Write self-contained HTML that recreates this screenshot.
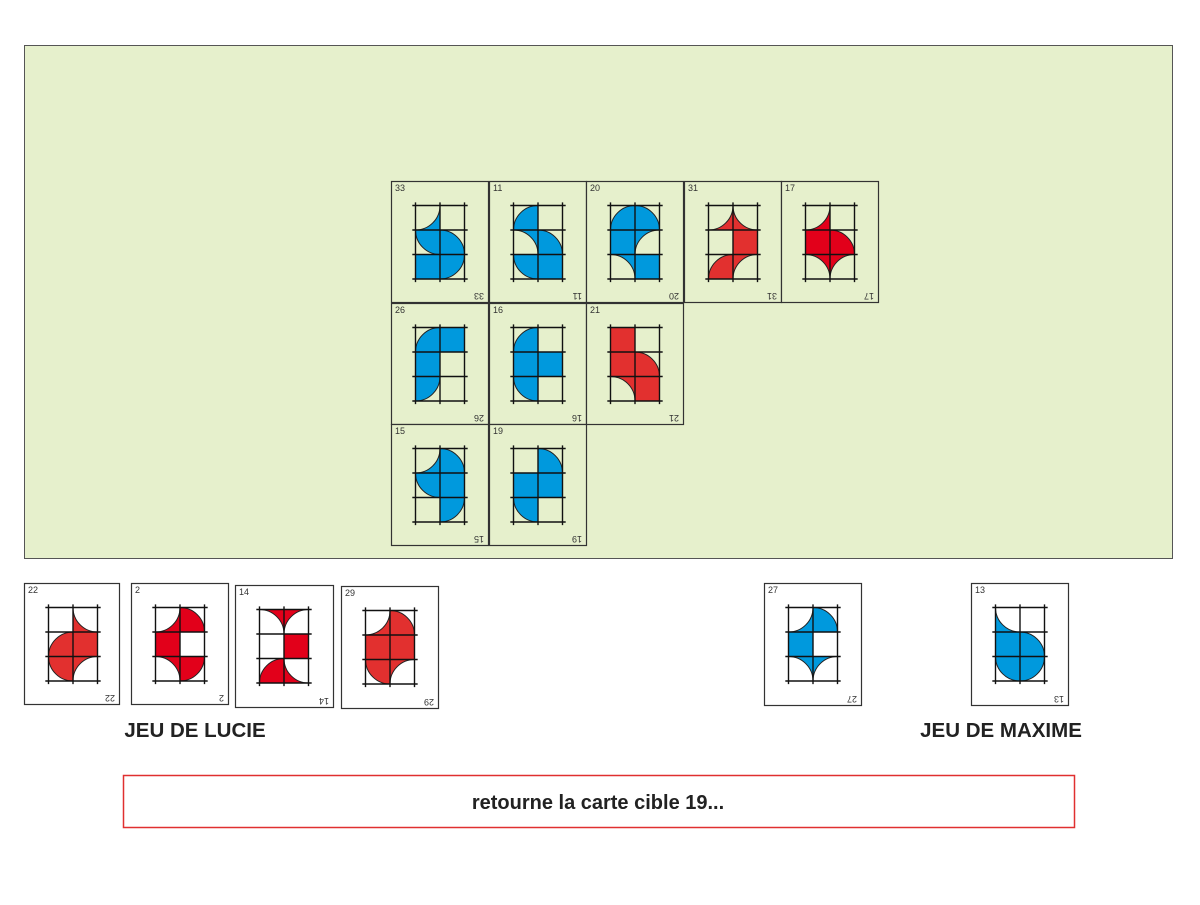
<!DOCTYPE html>
<html><head><meta charset="utf-8"><style>
body{margin:0;background:#fff;width:1200px;height:900px;overflow:hidden;font-family:"Liberation Sans",sans-serif}
</style></head><body>
<svg id="s" width="1200" height="900" xmlns="http://www.w3.org/2000/svg" font-family="Liberation Sans, sans-serif">
<rect x="24.5" y="45.5" width="1148" height="513" fill="#e6f0cc" stroke="#555" stroke-width="1"/>
<text x="195" y="737" font-size="20.5" font-weight="bold" text-anchor="middle" fill="#222">JEU DE LUCIE</text>
<text x="1001" y="737" font-size="20.5" font-weight="bold" text-anchor="middle" fill="#222">JEU DE MAXIME</text>
<rect x="123.5" y="775.5" width="951" height="52" fill="#fff" stroke="#e03030" stroke-width="1.5"/>
<text x="598" y="809" font-size="20" font-weight="bold" text-anchor="middle" fill="#222">retourne la carte cible 19...</text>
<g id="cards"></g>
</svg>
<script>
const B="#0099dd",R="#e2302f",R2="#e2001a";
const cards=[
[33,391,181,97,121,"#e6f0cc",B,"C_tl,,Q_tr,Q_bl,F,Q_tl"],
[11,489,181,97,121,"#e6f0cc",B,"Q_br,,C_bl,Q_bl,Q_tr,F"],
[20,586,181,97,121,"#e6f0cc",B,"Q_br,Q_bl,F,C_br,C_bl,F"],
[31,684,181,97,121,"#e6f0cc",R,"C_tl,C_tr,,F,Q_br,C_br"],
[17,781,181,97,121,"#e6f0cc",R2,"C_tl,,F,Q_bl,C_bl,C_br"],
[26,391,303,97,121,"#e6f0cc",B,"Q_br,F,F,,Q_tl,"],
[16,489,303,97,121,"#e6f0cc",B,"Q_br,,F,F,Q_tr,"],
[21,586,303,97,121,"#e6f0cc",R,"F,,F,Q_bl,C_bl,F"],
[15,391,424,97,121,"#e6f0cc",B,"C_tl,Q_bl,Q_tr,F,,Q_tl"],
[19,489,424,97,121,"#e6f0cc",B,",Q_bl,F,F,Q_tr,"],
[22,24,583,95,121,"#fff",R,",C_tr,Q_br,F,Q_tr,C_br"],
[2,131,583,97,121,"#fff",R2,"C_tl,Q_bl,F,,C_bl,Q_tl"],
[14,235,585,98,122,"#fff",R2,"C_bl,C_br,,F,Q_br,C_tr"],
[29,341,586,97,122,"#fff",R,"C_tl,Q_bl,F,F,Q_tr,C_br"],
[27,764,583,97,122,"#fff",B,"C_tl,Q_bl,F,,C_bl,C_br"],
[13,971,583,97,122,"#fff",B,"C_tr,,F,Q_bl,Q_tr,Q_tl"]
];
function prim(t,c,r){
 if(t==="F")return `M${c},${r}h1v1h-1Z`;
 const [k,cor]=t.split("_");
 const top=cor[0]==="t",left=cor[1]==="l";
 const Kx=c+(left?0:1),Ky=r+(top?0:1),dx=left?1:-1,dy=top?1:-1;
 const sw=dx*dy>0?1:0;
 if(k==="Q")return `M${Kx},${Ky}L${Kx+dx},${Ky}A1,1 0 0 ${sw} ${Kx},${Ky+dy}Z`;
 return `M${Kx+dx},${Ky}L${Kx+dx},${Ky+dy}L${Kx},${Ky+dy}A1,1 0 0 ${1-sw} ${Kx+dx},${Ky}Z`;
}
let h="";
for(const [n,x,y,w,hh,bg,col,spec] of cards){
 h+=`<rect x="${x+.5}" y="${y+.5}" width="${w}" height="${hh}" fill="${bg}" stroke="#333" stroke-width="1.2"/>`;
 h+=`<text x="${x+4}" y="${y+10}" font-size="9" fill="#333">${n}</text>`;
 h+=`<text transform="translate(${x+w-4},${y+hh-9}) rotate(180)" font-size="9" fill="#333">${n}</text>`;
 const gx=x+24.5,gy=y+24.5,s=24.5;
 let d="";
 spec.split(",").forEach((t,i)=>{if(t)d+=prim(t,i%2,Math.floor(i/2));});
 h+=`<g transform="translate(${gx},${gy}) scale(${s})"><path d="${d}" fill="${col}" stroke="#222" stroke-width="1" vector-effect="non-scaling-stroke"/>`;
 let g="";
 for(let i=0;i<3;i++)g+=`M${i},-0.13V3.13`;
 for(let j=0;j<4;j++)g+=`M-0.13,${j}H2.13`;
 h+=`<path d="${g}" fill="none" stroke="#111" stroke-width="1.4" vector-effect="non-scaling-stroke"/></g>`;
}
document.getElementById("cards").innerHTML=h;
</script>
</body></html>
